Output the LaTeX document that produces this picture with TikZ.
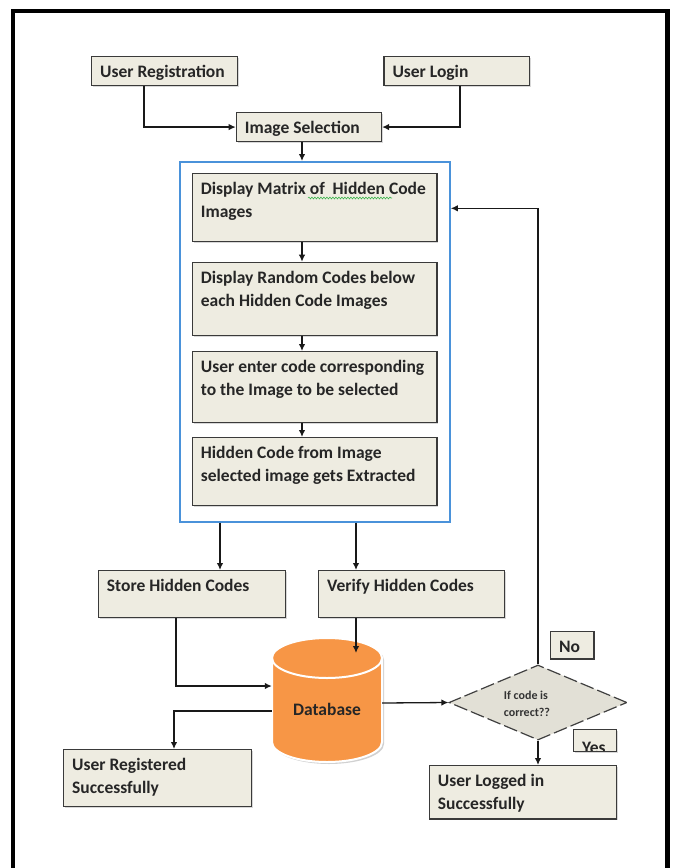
\documentclass[tikz,border=0pt]{standalone}
\usepackage{fontspec}
\setmainfont{Carlito}
\usetikzlibrary{arrows.meta,shapes.geometric,shadows,calc,decorations.pathmorphing}
\definecolor{boxfill}{HTML}{EEECE1}
\definecolor{boxline}{HTML}{3A3A3A}
\definecolor{grpblue}{HTML}{4A92DA}
\definecolor{dbfill}{HTML}{F79646}
\definecolor{diafill}{HTML}{E2E0D6}
\definecolor{squig}{HTML}{3CB44B}
\newcommand\bfnt{\fontsize{17.5}{23}\selectfont\bfseries}
\newcommand\bx[6]{\node[box, minimum width=#4pt, minimum height=#5pt] (#1) at (#2,#3)
  {\parbox[t][\dimexpr #5pt-10pt\relax][t]{\dimexpr #4pt-17pt\relax}{\raggedright\strut #6}};}
\tikzset{
  box/.style={draw=boxline, line width=1.4pt, fill=boxfill, anchor=north west,
    inner xsep=8.5pt, inner ysep=5pt, font=\bfnt, text=black!85,
    drop shadow={shadow xshift=1.3pt, shadow yshift=-1.3pt, opacity=0.3}},
  conn/.style={draw=black!90, line width=1.3pt, -{Latex[length=7pt,width=6.5pt]}},
}
\begin{document}
\begin{tikzpicture}[x=1pt,y=-1pt]
\useasboundingbox (0,0) rectangle (675,868);
\fill[white] (0,0) rectangle (675,868);
% outer frame
\draw[line width=4.5pt, black] (13,875) -- (13,11) -- (667.5,11) -- (667.5,875);

% top boxes
\bx{ur}{91}{56}{146}{29}{User Registration}
\bx{ul}{383.3}{56}{145.7}{29}{User Login}
\bx{is}{235.7}{111.7}{145}{29.3}{Image Selection}

% group box
\node[draw=grpblue, line width=1.5pt, anchor=north west, minimum width=270pt,
  minimum height=360pt, inner sep=0] (grp) at (179.3,161) {};

\bx{b1}{191.7}{172.7}{244.5}{68}{\mbox{Display Matrix of\ \ Hidden Code}\\Images}
\bx{b2}{191.7}{261.7}{244.5}{73.3}{\mbox{Display Random Codes below}\\\mbox{each Hidden Code Images}}
\bx{b3}{191.7}{351}{244.5}{70.7}{\mbox{User enter code corresponding}\\\mbox{to the Image to be selected}}
\bx{b4}{191.7}{437}{244.5}{68}{\mbox{Hidden Code from Image}\\\mbox{selected image gets Extracted}}
% spell-check squiggle
\draw[squig, line width=0.6pt, decorate, decoration={snake, amplitude=0.9pt, segment length=3pt}]
  (308,198) -- (392,198);

% lower boxes
\bx{store}{97.7}{570}{187.3}{47}{Store Hidden Codes}
\bx{verify}{318}{570}{186}{47}{Verify Hidden Codes}
\bx{ureg}{63}{749}{187.7}{56.7}{User Registered\\Successfully}
\bx{ulog}{428.7}{765}{187.3}{53.3}{User Logged in\\Successfully}
\bx{no}{550}{630.7}{43.3}{27.6}{No}
\node[box, minimum width=43pt, minimum height=22pt, inner sep=0] (yes) at (573,729) {};
\begin{scope}
  \clip (573.7,729.7) rectangle (615.3,750.3);
  \node[anchor=base west, inner sep=0, font=\bfnt, text=black!85] (yest) at (582,753.5) {Yes};
\end{scope}

% database cylinder
\node[minimum width=110pt, minimum height=124pt, inner sep=0] (db) at (327,700) {};
\fill[black, opacity=0.18] (274,660) -- (274,744)
  arc[start angle=180, end angle=0, x radius=55, y radius=20] -- (384,660)
  arc[start angle=0, end angle=-180, x radius=55, y radius=20] -- cycle;
\filldraw[fill=dbfill, draw=white, line width=2pt] (272,658) -- (272,742)
  arc[start angle=180, end angle=0, x radius=55, y radius=20] -- (382,658)
  arc[start angle=0, end angle=-180, x radius=55, y radius=20] -- cycle;
\draw[white, line width=2pt] (272,658) arc[start angle=180, end angle=0, x radius=55, y radius=20];
\node[anchor=base, font=\bfnt, text=black!85, inner sep=0] (dbt) at (327,715) {Database};

% decision
\node[diamond, draw=black!75, dashed, dash pattern=on 14pt off 4pt, line width=1.2pt,
  fill=diafill, minimum width=178pt, minimum height=75pt, inner sep=0] (dia) at (538,702.5) {};
\node[align=left, font=\fontsize{12}{17}\selectfont\bfseries, text=black!80, inner sep=0] (diat)
  at (527,704) {If code is\\correct??};

% connectors
\draw[conn] (ur.south -| 144,0) |- (is.west);
\draw[conn] (ul.south -| 460,0) |- (is.east);
\draw[conn] (is.south -| 302,0) -- (grp.north -| 302,0);
\draw[conn] (b1.south -| 302,0) -- (b2.north -| 302,0);
\draw[conn] (b2.south -| 302,0) -- (b3.north -| 302,0);
\draw[conn] (b3.south -| 302,0) -- (b4.north -| 302,0);
\draw[conn] (dia.north) |- (grp.east |- 0,208.3);
\draw[conn] (grp.south -| 220,0) -- (store.north -| 220,0);
\draw[conn] (grp.south -| 356,0) -- (verify.north -| 356,0);
\draw[conn] (store.south -| 176,0) |- (db.west |- 0,686);
\coordinate (dbin) at (356,653);
\draw[conn] (verify.south -| 356,0) -- (dbin);
\draw[conn] (db.west |- 0,711) -| (ureg.north -| 174,0);
\draw[conn] (db.east |- 0,703) -- (dia.west);
\draw[conn] (dia.south) -- (dia.south |- ulog.north);
\end{tikzpicture}
\end{document}
